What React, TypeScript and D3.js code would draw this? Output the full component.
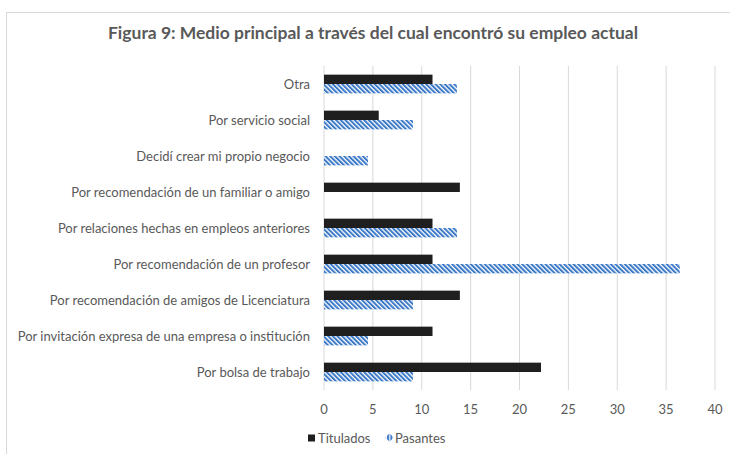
import React from "react";
import * as d3 from "d3";

const categories = [
  "Otra",
  "Por servicio social",
  "Decidí crear mi propio negocio",
  "Por recomendación de un familiar o amigo",
  "Por relaciones hechas en empleos anteriores",
  "Por recomendación de un profesor",
  "Por recomendación de amigos de Licenciatura",
  "Por invitación expresa de una empresa o institución",
  "Por bolsa de trabajo",
];
const titulados = [11.1, 5.6, 0, 13.9, 11.1, 11.1, 13.9, 11.1, 22.2];
const pasantes = [13.6, 9.1, 4.5, 0, 13.6, 36.4, 9.1, 4.5, 9.1];
const seriesNames = ["Titulados", "Pasantes"];
const xTicks = [0, 5, 10, 15, 20, 25, 30, 35, 40];
const title = "Figura 9: Medio principal a través del cual encontró su empleo actual";

const W = 730;
const H = 454;
const FONT = "Lato, 'Open Sans', sans-serif";
const GREY = "#595959";

export default function App() {
  const x = d3.scaleLinear().domain([0, 40]).range([324, 715]);
  const y = d3
    .scaleBand<string>()
    .domain(categories)
    .range([66, 390])
    .paddingInner(0.48)
    .paddingOuter(0.24);
  const inner = d3.scaleBand<string>().domain(seriesNames).range([0, y.bandwidth()]);
  const series = [titulados, pasantes];

  return (
    <svg
      width={W}
      height={H}
      style={{ position: "absolute", left: 0, top: 0, background: "#fff" }}
      fontFamily={FONT}
    >
      <defs>
        <pattern
          id="stripes"
          patternUnits="userSpaceOnUse"
          width={3.3}
          height={3.3}
          patternTransform="rotate(-45)"
        >
          <rect x={0} y={0} width={3.3} height={3.3} fill="#ffffff" />
          <rect x={0} y={0} width={2.0} height={3.3} fill="#3b79c7" />
        </pattern>
      </defs>
      <rect x={0} y={0} width={W} height={H} fill="#fff" />
      <rect x={6.5} y={12.5} width={W + 10} height={H + 10} fill="none" stroke="#d9d9d9" strokeWidth={1} />
      <text
        x={373}
        y={39}
        textAnchor="middle"
        fontSize={17}
        fontWeight={700}
        fill={GREY}
        textLength={530}
        lengthAdjust="spacingAndGlyphs"
      >
        {title}
      </text>
      {xTicks.map((t) => (
        <g key={t}>
          <line x1={x(t)} x2={x(t)} y1={66} y2={390} stroke="#d9d9d9" strokeWidth={1} />
          <text x={x(t)} y={409} dy="0.35em" textAnchor="middle" fontSize={13} fill={GREY}>
            {t}
          </text>
        </g>
      ))}
      {categories.map((c) => (
        <text
          key={c}
          x={310}
          y={(y(c) as number) + y.bandwidth() / 2}
          dy="0.35em"
          textAnchor="end"
          fontSize={13}
          fill={GREY}
        >
          {c}
        </text>
      ))}
      {series.map((vals, si) =>
        vals.map((v, i) =>
          v > 0 ? (
            <rect
              key={`${si}-${i}`}
              x={x(0)}
              y={(y(categories[i]) as number) + (inner(seriesNames[si]) as number)}
              width={x(v) - x(0)}
              height={inner.bandwidth()}
              fill={si === 0 ? "#1f1f1f" : "url(#stripes)"}
            />
          ) : null
        )
      )}
      <rect x={308} y={434.5} width={7} height={7} fill="#1f1f1f" />
      <text x={318} y={438} dy="0.35em" fontSize={13} fill={GREY}>
        {seriesNames[0]}
      </text>
      <rect x={386.5} y={434.5} width={6} height={6} fill="url(#stripes)" transform="rotate(45 389.5 437.5)" />
      <text x={395} y={438} dy="0.35em" fontSize={13} fill={GREY}>
        {seriesNames[1]}
      </text>
    </svg>
  );
}
